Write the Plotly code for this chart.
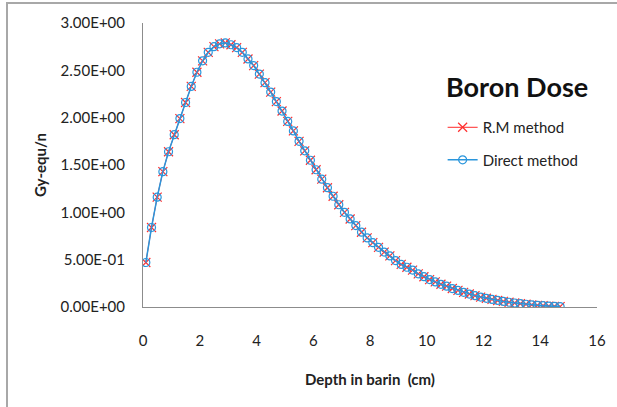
import plotly.graph_objects as go

depth = [0.1, 0.3, 0.5, 0.7, 0.9, 1.1, 1.3, 1.5, 1.7, 1.9,
         2.1, 2.3, 2.5, 2.7, 2.9, 3.1, 3.3, 3.5, 3.7, 3.9,
         4.1, 4.3, 4.5, 4.7, 4.9, 5.1, 5.3, 5.5, 5.7, 5.9,
         6.1, 6.3, 6.5, 6.7, 6.9, 7.1, 7.3, 7.5, 7.7, 7.9,
         8.1, 8.3, 8.5, 8.7, 8.9, 9.1, 9.3, 9.5, 9.7, 9.9,
         10.1, 10.3, 10.5, 10.7, 10.9, 11.1, 11.3, 11.5, 11.7, 11.9,
         12.1, 12.3, 12.5, 12.7, 12.9, 13.1, 13.3, 13.5, 13.7, 13.9,
         14.1, 14.3, 14.5, 14.7]

rm_dose = [0.47, 0.84, 1.16, 1.43, 1.64, 1.82, 1.99, 2.16, 2.33, 2.48,
           2.60, 2.69, 2.75, 2.78, 2.79, 2.77, 2.74, 2.69, 2.62, 2.55,
           2.46, 2.37, 2.27, 2.17, 2.07, 1.96, 1.86, 1.75, 1.65, 1.55,
           1.45, 1.35, 1.26, 1.17, 1.08, 1.00, 0.93, 0.86, 0.79, 0.73,
           0.68, 0.63, 0.58, 0.54, 0.49, 0.45, 0.42, 0.39, 0.35, 0.32,
           0.29, 0.265, 0.24, 0.22, 0.195, 0.175, 0.155, 0.137, 0.12, 0.105,
           0.092, 0.08, 0.069, 0.059, 0.05, 0.042, 0.035, 0.029, 0.023, 0.018,
           0.014, 0.010, 0.007, 0.004]

direct_dose = [0.47, 0.84, 1.16, 1.43, 1.64, 1.82, 1.99, 2.16, 2.33, 2.48,
               2.60, 2.69, 2.75, 2.78, 2.79, 2.77, 2.74, 2.69, 2.62, 2.55,
               2.46, 2.37, 2.27, 2.17, 2.07, 1.96, 1.86, 1.75, 1.65, 1.55,
               1.45, 1.35, 1.26, 1.17, 1.08, 1.00, 0.93, 0.86, 0.79, 0.73,
               0.68, 0.63, 0.58, 0.54, 0.49, 0.45, 0.42, 0.39, 0.35, 0.32,
               0.29, 0.265, 0.24, 0.22, 0.195, 0.175, 0.155, 0.137, 0.12, 0.105,
               0.092, 0.08, 0.069, 0.059, 0.05, 0.042, 0.035, 0.029, 0.023, 0.018,
               0.014, 0.010, 0.007, 0.004]

y_tickvals = [0, 0.5, 1.0, 1.5, 2.0, 2.5, 3.0]
y_ticktext = ["0.00E+00", "5.00E-01", "1.00E+00", "1.50E+00", "2.00E+00", "2.50E+00", "3.00E+00"]
x_tickvals = [0, 2, 4, 6, 8, 10, 12, 14, 16]

FONT = "Lato"
FS = 15

fig = go.Figure()
fig.add_trace(go.Scatter(
    x=depth, y=rm_dose, name="R.M method", mode="lines+markers",
    line=dict(color="#ff2a2a", width=1),
    marker=dict(symbol="x-thin", size=9, line=dict(color="#ff3030", width=1.2)),
    legendgroup="a",
))
fig.add_trace(go.Scatter(
    x=depth, y=direct_dose, name="Direct method", mode="lines+markers",
    line=dict(color="#2a96dc", width=1.5),
    marker=dict(symbol="circle-open", size=8, line=dict(color="#2ab8f0", width=1.2)),
    legendgroup="b",
))

fig.update_layout(
    width=617, height=407,
    margin=dict(l=143, r=20, t=23, b=100),
    paper_bgcolor="white", plot_bgcolor="white",
    font=dict(family=FONT, size=FS, color="#222"),
    showlegend=True,
    legend=dict(x=0.66, y=0.69, xanchor="left", yanchor="top",
                font=dict(family=FONT, size=FS, color="#222"),
                tracegroupgap=10, bgcolor="rgba(0,0,0,0)"),
    xaxis=dict(range=[0, 16], tickvals=x_tickvals, showgrid=False, zeroline=False,
               showline=True, linecolor="#8c8c8c", linewidth=1,
               ticks="outside", ticklen=20, tickcolor="rgba(0,0,0,0)",
               tickfont=dict(family=FONT, size=FS, color="#222"),
               title=dict(text="<b>Depth in barin  (cm)</b>", font=dict(family=FONT, size=FS, color="#222"), standoff=26)),
    yaxis=dict(range=[0, 3], tickvals=y_tickvals, ticktext=y_ticktext, showgrid=False, zeroline=False,
               showline=True, linecolor="#8c8c8c", linewidth=1,
               ticks="outside", ticklen=14, tickcolor="rgba(0,0,0,0)",
               tickfont=dict(family=FONT, size=FS, color="#222"),
               title=dict(text="<b>Gy-equ/n</b>", font=dict(family=FONT, size=FS, color="#222"), standoff=10)),
    annotations=[dict(text="<b>Boron Dose</b>", x=0.824, y=0.776, xref="paper", yref="paper",
                      xanchor="center", yanchor="middle",
                      showarrow=False, font=dict(family=FONT, size=27, color="#111"))],
    shapes=[dict(type="rect", xref="paper", yref="paper",
                 x0=(7 - 143) / 454, x1=1.5, y0=-0.8, y1=1 + (23 - 3) / 284,
                 line=dict(color="#a8a8a8", width=2), fillcolor="rgba(0,0,0,0)", layer="below")],
)

fig.write_html("out.html")
